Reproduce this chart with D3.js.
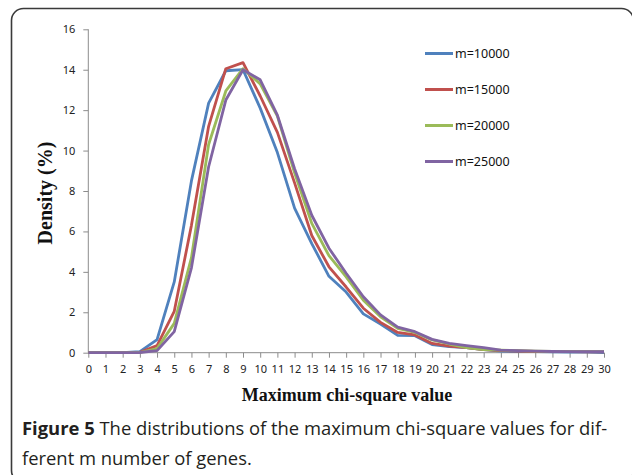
<!DOCTYPE html>
<html>
<head>
<meta charset="utf-8">
<script src="https://cdn.jsdelivr.net/npm/d3@7"></script>
<style>
  body { margin: 0; background: #fff; }
  .axis text { font-family: "Noto Sans", sans-serif; font-size: 11px; fill: #222; }
  .axis line { stroke: #8c8c8c; }
  .axis-title { font-family: "Liberation Serif", serif; font-weight: bold; fill: #111; }
  .legend text { font-family: "Noto Sans", sans-serif; font-size: 12.5px; fill: #111; }
  .caption { font-family: "Open Sans", sans-serif; font-size: 18.4px; fill: #231f20; }
</style>
</head>
<body>
<div class="container"></div>
<script>
// chi-square values on the x axis
const chiValues = [0, 1, 2, 3, 4, 5, 6, 7, 8, 9, 10, 11, 12, 13, 14, 15,
                   16, 17, 18, 19, 20, 21, 22, 23, 24, 25, 26, 27, 28, 29, 30];

const yTicks = [0, 2, 4, 6, 8, 10, 12, 14, 16];

const seriesNames = ["m=10000", "m=15000", "m=20000", "m=25000"];
const seriesColors = ["#4f81bd", "#c0504d", "#9bbb59", "#8064a2"];

// density (%)
const m10000 = [0, 0, 0, 0.05, 0.65, 3.5, 8.5, 12.35, 13.95, 14.0, 12.1, 9.9, 7.15, 5.4,
                3.78, 3.0, 1.92, 1.42, 0.86, 0.84, 0.4, 0.3, 0.25, 0.15, 0.08, 0.06,
                0.05, 0.04, 0.03, 0.03, 0.0];
const m15000 = [0, 0, 0, 0.02, 0.35, 2.05, 6.3, 11.2, 14.05, 14.35, 12.7, 10.9, 8.4, 5.8,
                4.25, 3.25, 2.2, 1.5, 1.0, 0.88, 0.46, 0.33, 0.25, 0.15, 0.1, 0.08,
                0.06, 0.05, 0.05, 0.04, 0.04];
const m20000 = [0, 0, 0, 0.01, 0.2, 1.45, 4.7, 10.3, 12.95, 14.05, 13.3, 11.7, 8.9, 6.4,
                4.8, 3.75, 2.6, 1.78, 1.2, 1.0, 0.63, 0.43, 0.25, 0.15, 0.13, 0.1,
                0.08, 0.06, 0.05, 0.05, 0.05];
const m25000 = [0, 0, 0, 0.01, 0.1, 1.04, 4.2, 9.2, 12.5, 14.0, 13.5, 11.75, 9.1, 6.8,
                5.17, 3.93, 2.77, 1.87, 1.27, 1.04, 0.66, 0.46, 0.35, 0.25, 0.13, 0.1,
                0.08, 0.06, 0.05, 0.05, 0.05];

const series = [m10000, m15000, m20000, m25000];

const width = 632, height = 475;

let svg = d3.select(".container")
            .append("svg")
            .attr("width", width)
            .attr("height", height);

// frame around figure + caption
svg.append("rect")
   .attr("x", 11.5)
   .attr("y", 8.5)
   .attr("width", 622)
   .attr("height", 474)
   .attr("rx", 12)
   .attr("fill", "none")
   .attr("stroke", "#3a3a3a")
   .attr("stroke-width", 1.6);

let xScale = d3.scaleLinear()
               .domain([0, 30])
               .range([88.3, 604]);

let yScale = d3.scaleLinear()
               .domain([0, 16])
               .range([352.7, 29.3]);

let yAxis = d3.axisLeft(yScale)
              .tickValues(yTicks)
              .tickSize(5)
              .tickPadding(8);

let xAxis = d3.axisBottom(xScale)
              .tickValues(chiValues)
              .tickSize(5)
              .tickPadding(8)
              .tickFormat(d3.format("d"));

let gy = svg.append("g")
            .attr("class", "axis")
            .attr("transform", `translate(${xScale(0)},0)`)
            .call(yAxis);
gy.select(".domain").remove();

let gx = svg.append("g")
            .attr("class", "axis")
            .attr("transform", `translate(0,${yScale(0)})`)
            .call(xAxis);
gx.select(".domain").remove();

// plain axis lines
svg.append("line")
   .attr("x1", xScale(0)).attr("x2", xScale(0))
   .attr("y1", yScale(16)).attr("y2", yScale(0))
   .attr("stroke", "#8c8c8c");
svg.append("line")
   .attr("x1", xScale(0)).attr("x2", xScale(30))
   .attr("y1", yScale(0)).attr("y2", yScale(0))
   .attr("stroke", "#8c8c8c");

let line = d3.line()
             .x((d, i) => xScale(chiValues[i]))
             .y(d => yScale(d));

svg.append("g")
   .selectAll("path")
   .data(series)
   .join("path")
   .attr("d", line)
   .attr("fill", "none")
   .attr("stroke", (d, i) => seriesColors[i])
   .attr("stroke-width", 2.8)
   .attr("stroke-linejoin", "round");

// legend
let legend = svg.append("g")
                .attr("class", "legend")
                .selectAll("g")
                .data(seriesNames)
                .join("g")
                .attr("transform", (d, i) => `translate(425,${53.5 + i * 36})`);

legend.append("line")
      .attr("x1", 0).attr("x2", 28)
      .attr("stroke", (d, i) => seriesColors[i])
      .attr("stroke-width", 3);

legend.append("text")
      .attr("x", 30)
      .attr("dy", "0.35em")
      .text(d => d);

// axis titles
svg.append("text")
   .attr("class", "axis-title")
   .attr("x", 347)
   .attr("y", 401)
   .attr("text-anchor", "middle")
   .style("font-size", "18px")
   .text("Maximum chi-square value");

svg.append("text")
   .attr("class", "axis-title")
   .attr("transform", "translate(52,193) rotate(-90)")
   .attr("text-anchor", "middle")
   .style("font-size", "20px")
   .text("Density (%)");

// caption
let cap1 = svg.append("text")
              .attr("class", "caption")
              .attr("x", 22)
              .attr("y", 435);
cap1.append("tspan").attr("font-weight", "bold").text("Figure 5");
cap1.append("tspan").text(" The distributions of the maximum chi-square values for dif-");

svg.append("text")
   .attr("class", "caption")
   .attr("x", 22)
   .attr("y", 465)
   .text("ferent m number of genes.");
</script>
</body>
</html>
